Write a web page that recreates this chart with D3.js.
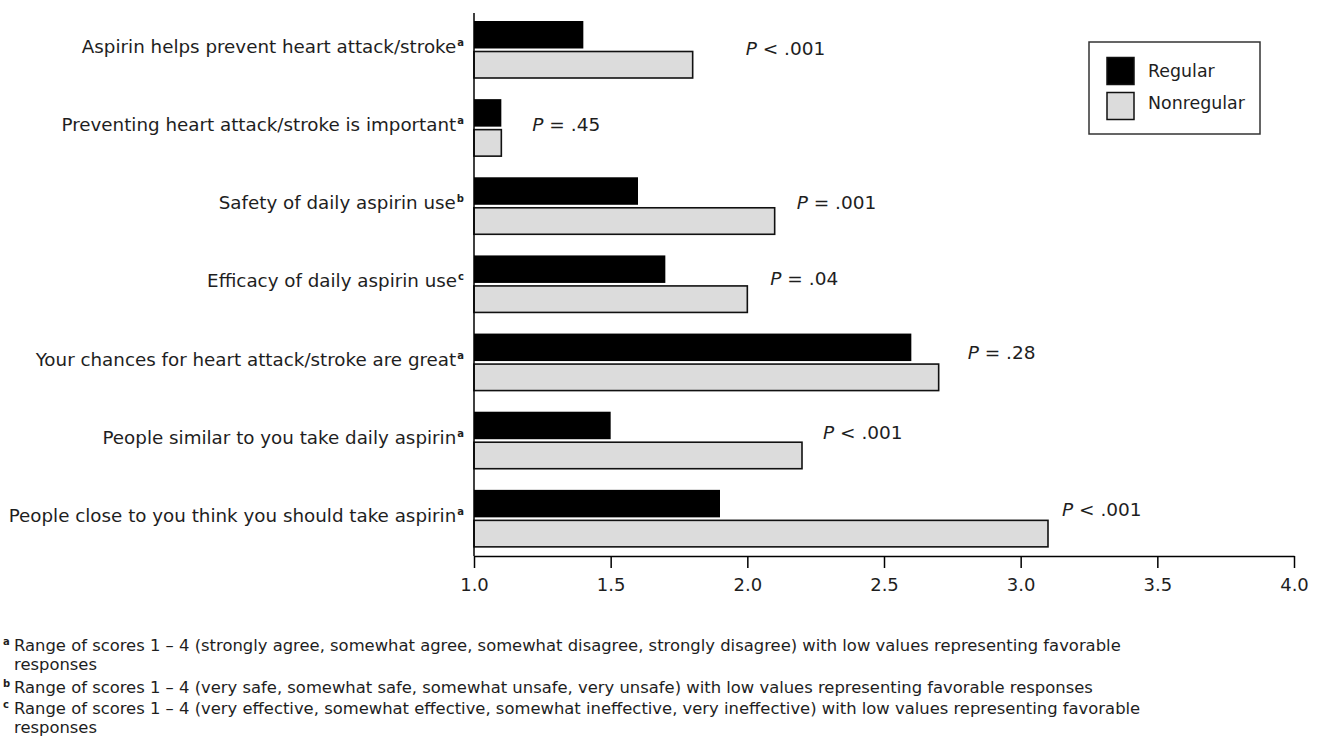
<!DOCTYPE html>
<html>
<head>
<meta charset="utf-8">
<script src="https://cdn.jsdelivr.net/npm/d3@7"></script>
<style>
  body { margin: 0; background: #fff; }
  text { font-family: "DejaVu Sans", Verdana, sans-serif; fill: #1e1e1e; }
</style>
</head>
<body>
<div id="chart"></div>
<script>
// ---- data ----
var categories = [
  "Aspirin helps prevent heart attack/stroke",
  "Preventing heart attack/stroke is important",
  "Safety of daily aspirin use",
  "Efficacy of daily aspirin use",
  "Your chances for heart attack/stroke are great",
  "People similar to you take daily aspirin",
  "People close to you think you should take aspirin"
];
var noteMarks = ["a", "a", "b", "c", "a", "a", "a"];
var regular = [1.4, 1.1, 1.6, 1.7, 2.6, 1.5, 1.9];
var nonregular = [1.8, 1.1, 2.1, 2.0, 2.7, 2.2, 3.1];
var pSigns = ["<", "=", "=", "=", "=", "<", "<"];
var pValues = [".001", ".45", ".001", ".04", ".28", ".001", ".001"];
var seriesNames = ["Regular", "Nonregular"];
var xTicks = [1.0, 1.5, 2.0, 2.5, 3.0, 3.5, 4.0];
var footnotes = [
  ["a", "Range of scores 1 \u2013 4 (strongly agree, somewhat agree, somewhat disagree, strongly disagree) with low values representing favorable", "responses"],
  ["b", "Range of scores 1 \u2013 4 (very safe, somewhat safe, somewhat unsafe, very unsafe) with low values representing favorable responses"],
  ["c", "Range of scores 1 \u2013 4 (very effective, somewhat effective, somewhat ineffective, very ineffective) with low values representing favorable", "responses"]
];

// P label placement as in the original (px past the longer bar, baseline from band top)
var pNudgeX = [53, 31, 22, 23, 29, 21, 14];
var pNudgeY = [42, 40, 40, 38, 33, 35, 34];

var W = 1318, H = 747;
var x0 = 474, x1 = 1294, yTop = 13, yAxis = 556;

var svg = d3.select("#chart").append("svg")
  .attr("width", W)
  .attr("height", H);

var x = d3.scaleLinear().domain([1, 4]).range([x0, x1]);
var y = d3.scaleBand().domain(categories).range([yTop, 560]);

var color = d3.scaleOrdinal().domain(seriesNames).range(["#000000", "#dcdcdc"]);

var rows = categories.map(function(c, i) {
  return { cat: c, note: noteMarks[i], reg: regular[i], non: nonregular[i],
           sign: pSigns[i], p: pValues[i], nx: pNudgeX[i], ny: pNudgeY[i] };
});

var g = svg.selectAll(".row")
  .data(rows)
  .enter()
  .append("g")
  .attr("class", "row");

// regular bars
g.append("rect")
  .attr("x", x(1))
  .attr("y", function(d) { return y(d.cat) + 8; })
  .attr("width", function(d) { return x(d.reg) - x(1); })
  .attr("height", 27.5)
  .attr("fill", color("Regular"));

// nonregular bars
g.append("rect")
  .attr("x", x(1))
  .attr("y", function(d) { return y(d.cat) + 38.5; })
  .attr("width", function(d) { return x(d.non) - x(1); })
  .attr("height", 26.5)
  .attr("fill", color("Nonregular"))
  .attr("stroke", "#111")
  .attr("stroke-width", 1.6);

// category labels
var lab = g.append("text")
  .attr("x", 464)
  .attr("y", function(d) { return y(d.cat) + 40; })
  .attr("text-anchor", "end")
  .style("font-size", "18.3px");
lab.append("tspan").text(function(d) { return d.cat; });
lab.append("tspan")
  .attr("dx", 1)
  .attr("dy", -7)
  .style("font-size", "10px")
  .style("font-weight", "bold")
  .text(function(d) { return d.note; });

// P labels
var pl = g.append("text")
  .attr("x", function(d) { return x(Math.max(d.reg, d.non)) + d.nx; })
  .attr("y", function(d) { return y(d.cat) + d.ny; })
  .style("font-size", "18.5px");
pl.append("tspan").style("font-style", "italic").text("P");
pl.append("tspan").text(function(d) { return " " + d.sign + " " + d.p; });

// y axis line
svg.append("line")
  .attr("x1", x0).attr("x2", x0)
  .attr("y1", yTop).attr("y2", yAxis)
  .attr("stroke", "#000").attr("stroke-width", 1.5);

// x axis
var xAxis = svg.append("g")
  .attr("class", "xline")
  .attr("transform", "translate(0," + yAxis + ")")
  .call(d3.axisBottom(x).tickValues(xTicks).tickFormat(d3.format(".1f"))
        .tickSize(12).tickPadding(10).tickSizeOuter(0));
xAxis.select(".domain").attr("stroke", "#000").attr("stroke-width", 1.5);
xAxis.selectAll(".tick line").attr("stroke", "#000").attr("stroke-width", 1.5);
xAxis.selectAll(".tick text")
  .style("font-family", "\"DejaVu Sans\", Verdana, sans-serif")
  .style("font-size", "18px")
  .attr("fill", "#1e1e1e");

// legend
var leg = svg.append("g").attr("transform", "translate(1089,42)");
leg.append("rect")
  .attr("width", 171).attr("height", 92)
  .attr("fill", "#fff").attr("stroke", "#333").attr("stroke-width", 1.5);
seriesNames.forEach(function(s, i) {
  leg.append("rect")
    .attr("x", 18).attr("y", 15.5 + i * 35)
    .attr("width", 27).attr("height", 27)
    .attr("fill", color(s))
    .attr("stroke", "#111").attr("stroke-width", 1.5);
  leg.append("text")
    .attr("x", 59).attr("y", 35 + i * 31.5)
    .style("font-size", "17.4px")
    .text(s);
});

// footnotes
var fy = [651, 693, 714];
footnotes.forEach(function(f, i) {
  var t = svg.append("text").attr("x", 3).attr("y", fy[i]).style("font-size", "16.4px");
  t.append("tspan").attr("dy", -6).style("font-size", "10px").style("font-weight", "bold").text(f[0]);
  t.append("tspan").attr("x", 14).attr("dy", 6).text(f[1]);
  if (f[2]) {
    t.append("tspan").attr("x", 14).attr("dy", 19).text(f[2]);
  }
});
</script>
</body>
</html>
